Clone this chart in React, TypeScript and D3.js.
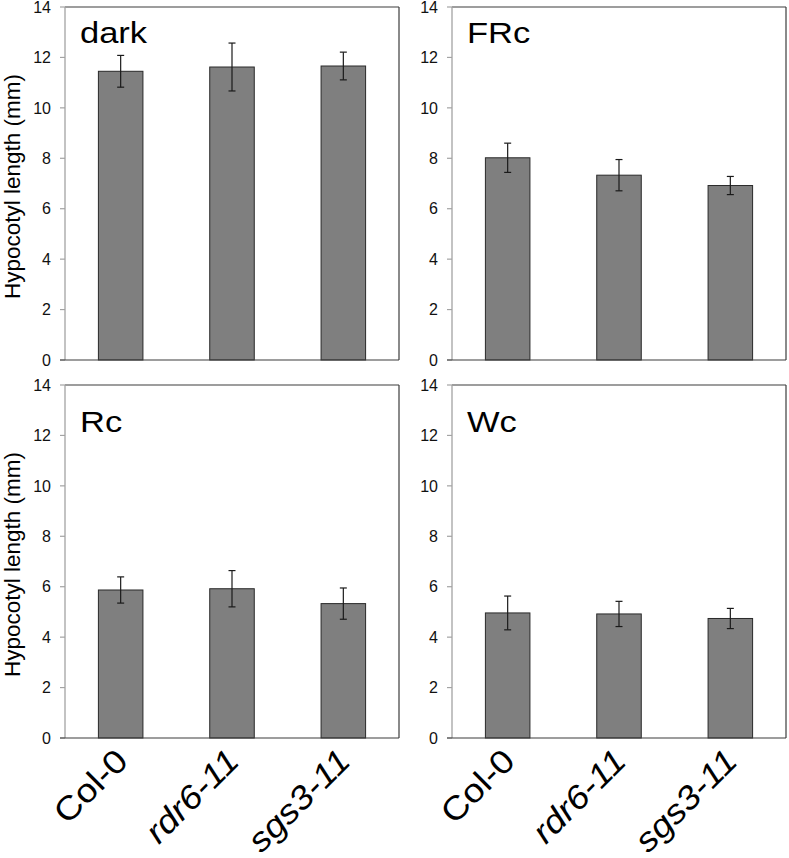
import React from "react";
import * as d3 from "d3";

const categories = ["Col-0", "rdr6-11", "sgs3-11"];
const italicCategory = [false, true, true];
const panelTitles = ["dark", "FRc", "Rc", "Wc"];

const darkMean = [11.45, 11.62, 11.66];
const darkErr = [0.63, 0.95, 0.55];
const frcMean = [8.02, 7.33, 6.92];
const frcErr = [0.58, 0.62, 0.36];
const rcMean = [5.87, 5.92, 5.33];
const rcErr = [0.52, 0.72, 0.62];
const wcMean = [4.96, 4.92, 4.74];
const wcErr = [0.67, 0.5, 0.4];

const yTicks = [0, 2, 4, 6, 8, 10, 12, 14];
const yLabel = "Hypocotyl length (mm)";

const FONT = "'Liberation Sans', Arial, Helvetica, sans-serif";

type Frame = { x0: number; x1: number; y0: number; y1: number; titleDy: number };

function Panel({
  frame,
  title,
  means,
  errs,
  showY,
  showX,
}: {
  frame: Frame;
  title: string;
  means: number[];
  errs: number[];
  showY: boolean;
  showX: boolean;
}) {
  const { x0, x1, y0, y1, titleDy } = frame;
  const x = d3.scaleBand<string>().domain(categories).range([x0, x1]).paddingInner(0.6).paddingOuter(0.3);
  const y = d3.scaleLinear().domain([0, 14]).range([y1, y0]);
  const bw = x.bandwidth();
  const cap = 3.5;
  return (
    <g>
      {categories.map((c, i) => (
        <rect
          key={c}
          x={x(c)!}
          y={y(means[i])}
          width={bw}
          height={y(0) - y(means[i])}
          fill="#7f7f7f"
          stroke="#2a2a2a"
          strokeWidth={1}
        />
      ))}
      {categories.map((c, i) => {
        const cx = x(c)! + bw / 2;
        const top = y(means[i] + errs[i]);
        const bot = y(means[i] - errs[i]);
        return (
          <g key={c + "e"} stroke="#1a1a1a" strokeWidth={1.2}>
            <line x1={cx} x2={cx} y1={top} y2={bot} />
            <line x1={cx - cap} x2={cx + cap} y1={top} y2={top} />
            <line x1={cx - cap} x2={cx + cap} y1={bot} y2={bot} />
          </g>
        );
      })}
      <line x1={x0} x2={x1} y1={y0} y2={y0} stroke="#3c3c3c" strokeWidth={1.2} />
      <line x1={x1} x2={x1} y1={y0} y2={y1} stroke="#3c3c3c" strokeWidth={1.2} />
      <line x1={x0} x2={x0} y1={y0} y2={y1} stroke="#a3a3a3" strokeWidth={1.3} />
      {yTicks.map((t) => (
        <g key={t}>
          <line x1={x0 - 5} x2={x0} y1={y(t)} y2={y(t)} stroke="#a3a3a3" strokeWidth={1.2} />
          <text x={x0 - 14} y={y(t)} dy="0.36em" textAnchor="end" fontSize={16} fill="#111" fontFamily={FONT}>
            {t}
          </text>
        </g>
      ))}
      <line x1={x0 - 5} x2={x1} y1={y1} y2={y1} stroke="#3c3c3c" strokeWidth={1.2} />
      <text
        transform={`translate(${x0 + 15},${y0 + titleDy}) scale(1.19,1)`}
        fontSize={29}
        fill="#000"
        fontFamily={FONT}
      >
        {title}
      </text>
      {showY && (
        <text
          transform={`translate(20,${(y0 + y1) / 2 + 3}) rotate(-90)`}
          textAnchor="middle"
          fontSize={22.5}
          fill="#000"
          fontFamily={FONT}
        >
          {yLabel}
        </text>
      )}
      {showX &&
        categories.map((c, i) => {
          const cx = x(c)! + bw / 2;
          return (
            <text
              key={c + "x"}
              transform={`translate(${cx + 9},${y1 + 25}) rotate(-45) scale(1.12,1)`}
              textAnchor="end"
              fontSize={33}
              fontStyle={italicCategory[i] ? "italic" : "normal"}
              fill="#000"
              fontFamily={FONT}
            >
              {c}
            </text>
          );
        })}
    </g>
  );
}

export default function App() {
  const frames: Frame[] = [
    { x0: 65, x1: 399, y0: 7, y1: 360, titleDy: 36 },
    { x0: 452, x1: 786, y0: 7, y1: 360, titleDy: 36 },
    { x0: 65, x1: 399, y0: 385, y1: 738, titleDy: 47 },
    { x0: 452, x1: 786, y0: 385, y1: 738, titleDy: 47 },
  ];
  const means = [darkMean, frcMean, rcMean, wcMean];
  const errs = [darkErr, frcErr, rcErr, wcErr];
  return (
    <svg
      width={789}
      height={858}
      style={{ position: "absolute", left: 0, top: 0, background: "#fff" }}
    >
      <rect x={0} y={0} width={789} height={858} fill="#fff" />
      {frames.map((f, i) => (
        <Panel
          key={panelTitles[i]}
          frame={f}
          title={panelTitles[i]}
          means={means[i]}
          errs={errs[i]}
          showY={i % 2 === 0}
          showX={i >= 2}
        />
      ))}
    </svg>
  );
}
